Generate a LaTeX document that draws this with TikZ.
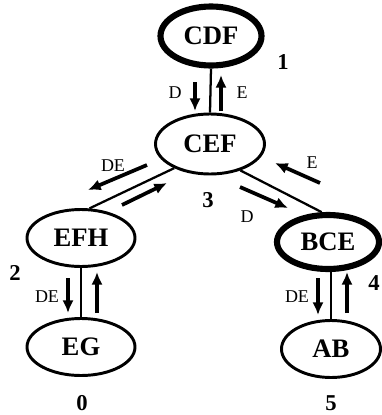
\documentclass[tikz,border=0pt]{standalone}
\usepackage{fontspec}
\setmainfont{Liberation Serif}
\usetikzlibrary{arrows.meta,shapes.geometric}
\tikzset{
  state/.style={ellipse, draw, line width=2.2pt, inner sep=0pt, font=\fontsize{20}{20}\selectfont\bfseries},
  heavy/.style={line width=4.6pt},
  link/.style={line width=1.7pt},
  flow/.style={line width=2.8pt, -{Latex[length=9.5pt,width=8.5pt]}},
  elab/.style={font=\fontsize{13.5}{14}\selectfont, inner sep=0pt},
  num/.style={font=\fontsize{17}{17}\selectfont\bfseries, inner sep=0pt}
}
\begin{document}
\begin{tikzpicture}[x=0.75pt,y=-0.75pt]
\useasboundingbox (0,0) rectangle (382,415);
\node[state, heavy, minimum width=101*0.75pt, minimum height=59*0.75pt] (CDF) at (211,36) {CDF};
\node[state, minimum width=109*0.75pt, minimum height=60*0.75pt] (CEF) at (210,144) {CEF};
\node[state, minimum width=108*0.75pt, minimum height=57*0.75pt] (EFH) at (81,238) {EFH};
\node[state, minimum width=108*0.75pt, minimum height=57*0.75pt] (EG) at (81,347) {EG};
\node[state, heavy, minimum width=102*0.75pt, minimum height=54*0.75pt] (BCE) at (328,242) {BCE};
\node[state, minimum width=99*0.75pt, minimum height=57*0.75pt] (AB) at (331,349) {AB};
% connectors
\draw[link] (CDF.south) -- (CEF.north);
\draw[link] (EFH.74) -- (CEF.214);
\draw[link] (CEF.319) -- (BCE.102);
\draw[link] (EFH.south) -- (EG.north);
\draw[link] (AB.north) -- (AB.north |- BCE.south);
% flow arrows
\draw[flow] (195,82) -- (195,111);
\draw[flow] (221,111) -- (221,75);
\draw[flow] (147,165) -- (88,190);
\draw[flow] (122,205) -- (167,183);
\draw[flow] (320,183) -- (275,163);
\draw[flow] (240,187) -- (288,208);
\draw[flow] (68,278) -- (68,313);
\draw[flow] (97,313) -- (97,272);
\draw[flow] (318,278) -- (318,315);
\draw[flow] (347,313) -- (347,272);
% labels
\node[elab] (lD1) at (175,93) {D};
\node[elab] (lE1) at (242,93) {E};
\node[elab] (lDE1) at (113,166) {DE};
\node[elab] (lE2) at (312,163) {E};
\node[elab] (lD2) at (247,217) {D};
\node[elab] (lDE2) at (47,297) {DE};
\node[elab] (lDE3) at (297,297) {DE};
\node[num] (n1) at (283,62) {1};
\node[num] (n3) at (208,200) {3};
\node[num] (n2) at (15,273) {2};
\node[num] (n4) at (374,283) {4};
\node[num] (n0) at (82,403) {0};
\node[num] (n5) at (331,403) {5};
\end{tikzpicture}
\end{document}
